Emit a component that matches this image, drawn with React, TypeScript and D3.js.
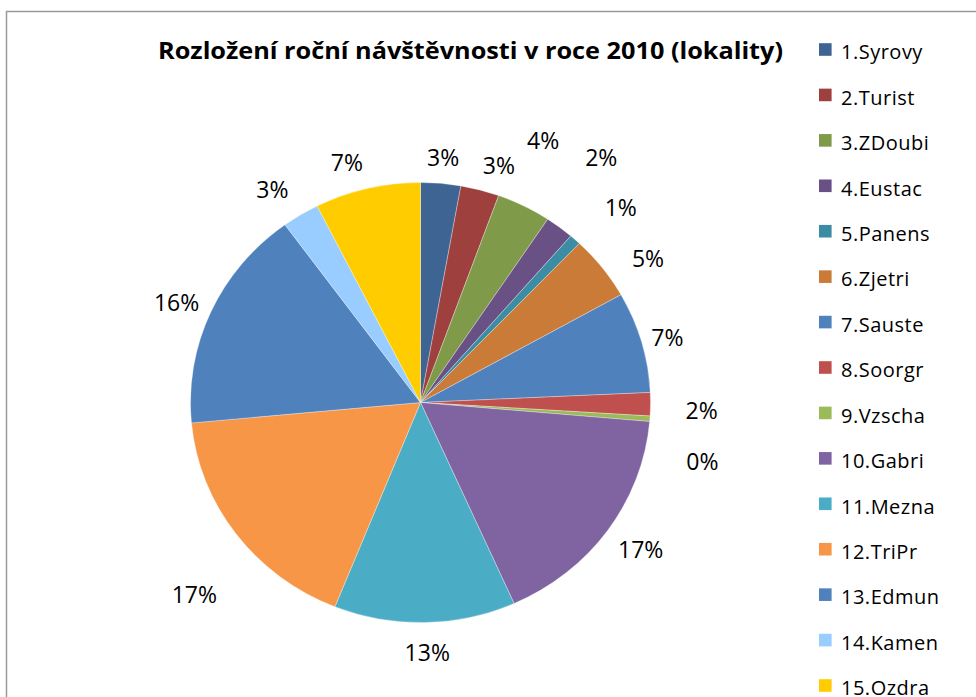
import * as React from "react";
import * as d3 from "d3";

// lokality, share of yearly visits 2010 (in %)
const names = [
  "1.Syrovy", "2.Turist", "3.ZDoubi", "4.Eustac", "5.Panens",
  "6.Zjetri", "7.Sauste", "8.Soorgr", "9.Vzscha", "10.Gabri",
  "11.Mezna", "12.TriPr", "13.Edmun", "14.Kamen", "15.Ozdra",
];
const visits = [2.8, 2.7, 3.8, 2.0, 0.8, 4.7, 7.4, 1.7, 0.4, 16.9, 12.7, 17.4, 16.4, 2.6, 7.4];
const colors = [
  "#3e6494", "#9e413e", "#7f9a48", "#695185", "#3c8da3",
  "#cb7b38", "#4f81bd", "#c0504d", "#9bbb59", "#8064a2",
  "#4bacc6", "#f79646", "#4f81bd", "#99ccff", "#ffcc00",
];
const title = "Rozložení roční návštěvnosti v roce 2010 (lokality)";

// label placement tweaks (angle shift in degrees, distance from centre)
const labelShift = [0, 2.6, -2.6, -2, 2.3, 4.3, 0.5, 1.2, 8.1, -0.5, -0.4, -4.8, -1, -2.2, -3];
const labelDist = [246, 248, 287, 300, 273, 261, 245, 269, 276, 257, 250, 289, 254, 256, 250];

const FONT = "'Open Sans', 'Noto Sans', sans-serif";

export default function App() {
  const cx = 420.5, cy = 402.5;
  const r = 220, sx = 230 / 220;

  const total = d3.sum(visits);
  const pie = d3.pie<number>().sort(null).value(d => d);
  const arcs = pie(visits);
  const arc = d3.arc<d3.PieArcDatum<number>>().innerRadius(0).outerRadius(r);

  const legendY = d3.scalePoint<string>().domain(names).range([49.5, 685.5]);

  return (
    <svg width={976} height={697} style={{position: "absolute", left: 0, top: 0, background: "#fff"}}>
      <path d="M6.5,697 L6.5,11.5 L976,11.5" fill="none" stroke="#9a9a9a" strokeWidth={1.5}/>

      <text x={158} y={58.5} fontFamily={FONT} fontWeight="bold" fontSize={24}
            textLength={625} lengthAdjust="spacingAndGlyphs" fill="#000">{title}</text>

      <g transform={`translate(${cx},${cy}) scale(${sx},1)`}>
        {arcs.map((a, i) => (
          <path key={i} d={arc(a) || ""} fill={colors[i]} stroke="#ffffff" strokeOpacity={0.5} strokeWidth={0.6}/>
        ))}
      </g>

      {arcs.map((a, i) => {
        const ang = (a.startAngle + a.endAngle) / 2 + labelShift[i] * Math.PI / 180;
        const x = cx + labelDist[i] * Math.sin(ang) * sx;
        const y = cy - labelDist[i] * Math.cos(ang);
        return (
          <text key={i} x={x} y={y + 8.4} textAnchor="middle" fontFamily={FONT} fontSize={23} fill="#000">
            {Math.round(visits[i] / total * 100) + "%"}
          </text>
        );
      })}

      {names.map((n, i) => {
        const y = legendY(n) as number;
        return (
          <g key={n}>
            <rect x={819} y={y - 6.3} width={12.6} height={12.6} fill={colors[i]}/>
            <text x={841} y={y + 9.8} fontFamily={FONT} fontSize={20} letterSpacing={0.5} fill="#000">{n}</text>
          </g>
        );
      })}
    </svg>
  );
}
